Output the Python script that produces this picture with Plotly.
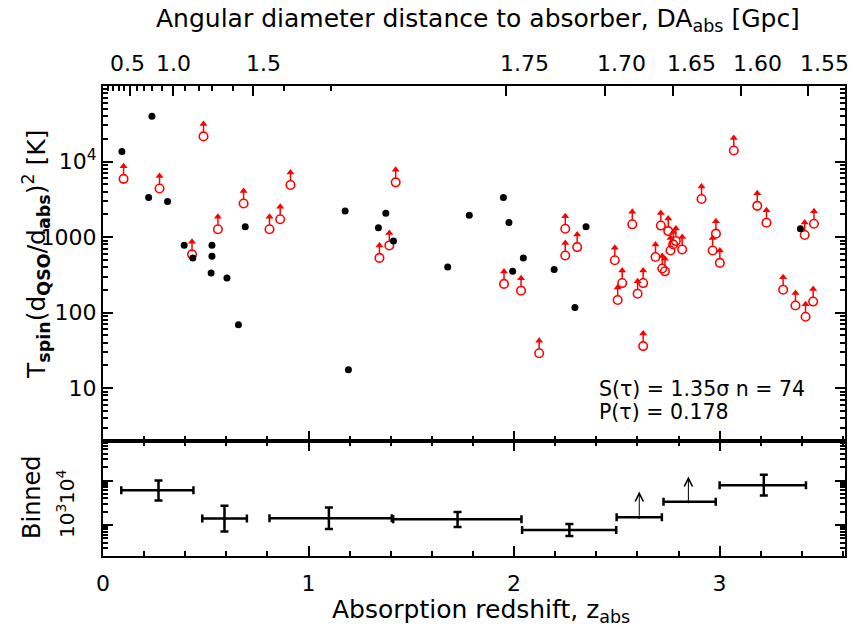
import numpy as np
import plotly.graph_objects as go

# ---------------- data ----------------
# detections: filled black points
det_z = [0.092, 0.222, 0.238, 0.314, 0.395, 0.437, 0.530, 0.530, 0.526, 0.603, 0.659, 0.692,
         1.178, 1.194, 1.340, 1.376, 1.413, 1.677, 1.782, 1.948, 1.975, 1.993, 2.045, 2.195,
         2.296, 2.350, 3.393]
det_T = [13600, 3340, 39800, 2960, 782, 530, 782, 558, 334, 287, 69, 1370,
         2220, 17.5, 1330, 2070, 885, 402, 1945, 3340, 1553, 352, 530, 371,
         117, 1370, 1290]

# lower limits: open red circles with upward arrows
lim_z = [0.100, 0.275, 0.433, 0.489, 0.559, 0.684, 0.810, 0.862, 0.912, 1.345,
         1.393, 1.424, 1.951, 2.034, 2.122, 2.249, 2.249, 2.307, 2.490, 2.504,
         2.526, 2.575, 2.601, 2.628, 2.628, 2.688, 2.714, 2.750, 2.761, 2.774,
         2.787, 2.818, 2.721, 2.734, 2.912, 2.982, 2.966, 3.001, 3.069, 3.183,
         3.228, 3.309, 3.369, 3.418, 3.455, 3.414, 3.459]
lim_T = [5900, 4400, 590, 21500, 1270, 2780, 1270, 1720, 4900, 530,
         775, 5300, 240, 195, 29, 1290, 570, 736, 494, 147,
         246, 1475, 178, 246, 36, 545, 1420, 1200, 665, 800,
         885, 686, 383, 352, 3190, 1110, 665, 455, 14000, 2590,
         1550, 201, 124, 88, 140, 1064, 1503]

# binned panel
bin_z = [0.270, 0.591, 1.099, 1.725, 2.269, 2.609, 2.848, 3.215]
bin_zlo = [0.089, 0.483, 0.810, 1.412, 2.039, 2.499, 2.727, 3.000]
bin_zhi = [0.440, 0.700, 1.405, 2.036, 2.497, 2.719, 2.981, 3.420]
bin_T = [6030, 1390, 1413, 1343, 771, 1489, 3304, 7852]
bin_Thi = [10000, 2692, 2455, 1950, 1047, None, None, 13490]
bin_Tlo = [3548, 708, 813, 902, 562, None, None, 4571]
bin_is_limit = [False, False, False, False, False, True, True, False]
bin_arrow_T = [None, None, None, None, None, 5623, 12300, None]

stats_lines = ["S(\u03c4) = 1.35\u03c3 n = 74", "P(\u03c4) = 0.178"]

# top axis: angular diameter distance
top_labels = ["0.5", "1.0", "1.5", "1.75", "1.70", "1.65", "1.60", "1.55"]
top_tick_z = [0.129, 0.340, 0.732, 1.961, 2.442, 2.773, 3.102, 3.430]
top_label_z = [0.117, 0.343, 0.779, 2.053, 2.523, 2.863, 3.186, 3.512]
top_minor_z = [0.025, 0.050, 0.077, 0.103, 0.163, 0.200, 0.240, 0.288,
               0.400, 0.465, 0.530, 0.632, 0.883, 1.108]

main_ytick = [10, 100, 1000, 10000]
main_ytext = ["10", "100", "1000", "10<sup>4</sup>"]
bin_ytick = [1000, 10000]
bin_ytext = ["10<sup>3</sup>", "10<sup>4</sup>"]
x_ticks = [0, 1, 2, 3]

# ---------------- layout geometry ----------------
W, H = 865, 630
L, R, T, B = 103, 20, 86, 74
PW, PH = W - L - R, H - T - B
split = 115 / PH          # bottom panel height fraction
XR = [0, 3.61]
YR_MAIN = [0.30, 5.0]
YR_BIN = [2.30, 4.89]
FONT = "DejaVu Sans"
FS = 22      # tick labels
FT = 25      # titles

main_h = PH * (1 - split)
dec_px = main_h / (YR_MAIN[1] - YR_MAIN[0])
k0 = 10 ** (4.5 / dec_px)
k1 = 10 ** (12.5 / dec_px)
khead = 10 ** (12.5 / dec_px)

fig = go.Figure()

sx, sy = [], []
for z, t in zip(lim_z, lim_T):
    sx += [z, z, None]
    sy += [t * k0, t * k1, None]
fig.add_trace(go.Scatter(x=sx, y=sy, mode="lines", line=dict(color="red", width=1.5),
                         xaxis="x2", yaxis="y", hoverinfo="skip", showlegend=False))
fig.add_trace(go.Scatter(x=lim_z, y=[t * khead for t in lim_T], mode="markers",
                         marker=dict(symbol="triangle-up", size=7, color="red"),
                         xaxis="x2", yaxis="y", showlegend=False))
fig.add_trace(go.Scatter(x=lim_z, y=lim_T, mode="markers",
                         marker=dict(symbol="circle-open", size=8.5, color="red", line=dict(width=1.6)),
                         xaxis="x2", yaxis="y", showlegend=False))
fig.add_trace(go.Scatter(x=det_z, y=det_T, mode="markers",
                         marker=dict(symbol="circle", size=7, color="black"),
                         xaxis="x2", yaxis="y", showlegend=False))
# dummy trace for the top axis
fig.add_trace(go.Scatter(x=[1], y=[100], mode="markers", marker=dict(opacity=0),
                         xaxis="x3", yaxis="y", hoverinfo="skip", showlegend=False))

# binned panel
for i in range(len(bin_z)):
    ex = dict(type="data", symmetric=False, array=[bin_zhi[i] - bin_z[i]],
              arrayminus=[bin_z[i] - bin_zlo[i]], color="black", thickness=2.5, width=4)
    if bin_is_limit[i]:
        ey = dict(visible=False)
    else:
        ey = dict(type="data", symmetric=False, array=[bin_Thi[i] - bin_T[i]],
                  arrayminus=[bin_T[i] - bin_Tlo[i]], color="black", thickness=2.5, width=4)
    fig.add_trace(go.Scatter(x=[bin_z[i]], y=[bin_T[i]], mode="markers",
                             marker=dict(size=3, color="black"), error_x=ex, error_y=ey,
                             xaxis="x", yaxis="y2", showlegend=False))

ann = []
for i in range(len(bin_z)):
    if bin_is_limit[i]:
        ann.append(dict(x=bin_z[i], y=np.log10(bin_arrow_T[i]), xref="x", yref="y2",
                        ax=bin_z[i], ay=np.log10(bin_T[i]), axref="x", ayref="y2",
                        text="", showarrow=True, arrowhead=5, arrowsize=1.6, arrowwidth=1,
                        arrowcolor="black"))

for lab, z in zip(top_labels, top_label_z):
    ann.append(dict(x=z, y=1, xref="x2", yref="paper", yshift=23, text=lab, showarrow=False,
                    font=dict(family=FONT, size=FS, color="black"), xanchor="center", yanchor="middle"))


def px_x(px):
    return (px - L) / PW


def px_y(py):
    return (H - B - py) / PH


# rotated tick labels of the binned panel
for lab, py in zip(bin_ytext, [521, 487]):
    ann.append(dict(x=px_x(66), y=px_y(py), xref="paper", yref="paper", showarrow=False,
                    textangle=-90, text=lab, font=dict(family=FONT, size=20, color="black"),
                    xanchor="center", yanchor="middle"))

ann.append(dict(x=px_x(478), y=px_y(20), xref="paper", yref="paper", showarrow=False,
                text="Angular diameter distance to absorber, DA<sub>abs</sub> [Gpc]",
                font=dict(family=FONT, size=FT, color="black"), xanchor="center", yanchor="middle"))
ann.append(dict(x=px_x(481), y=px_y(611), xref="paper", yref="paper", showarrow=False,
                text="Absorption redshift, z<sub>abs</sub>",
                font=dict(family=FONT, size=FT, color="black"), xanchor="center", yanchor="middle"))
ann.append(dict(x=px_x(36), y=px_y(254), xref="paper", yref="paper", showarrow=False, textangle=-90,
                text="T<sub><b>spin</b></sub>(d<sub><b>QSO</b></sub>/d<sub><b>abs</b></sub>)<sup>2</sup> [K]",
                font=dict(family=FONT, size=FT, color="black"), xanchor="center", yanchor="middle"))
ann.append(dict(x=px_x(32), y=px_y(497), xref="paper", yref="paper", showarrow=False, textangle=-90,
                text="Binned", font=dict(family=FONT, size=24, color="black"),
                xanchor="center", yanchor="middle"))
ann.append(dict(x=px_x(597), y=px_y(389), xref="paper", yref="paper", showarrow=False,
                text=stats_lines[0], font=dict(family=FONT, size=20.5, color="black"),
                xanchor="left", yanchor="middle"))
ann.append(dict(x=px_x(597), y=px_y(412), xref="paper", yref="paper", showarrow=False,
                text=stats_lines[1], font=dict(family=FONT, size=20.5, color="black"),
                xanchor="left", yanchor="middle"))

line_kw = dict(showline=True, linecolor="black", linewidth=2, showgrid=False, zeroline=False,
               ticks="inside", tickcolor="black", tickwidth=1.5, ticklen=10)
main_minor = [m * 10 ** e for e in range(0, 5) for m in range(2, 10)]
bin_minor = [m * 10 ** e for e in range(2, 5) for m in range(2, 10)]

fig.update_layout(
    width=W, height=H, margin=dict(l=L, r=R, t=T, b=B),
    paper_bgcolor="white", plot_bgcolor="white", showlegend=False,
    font=dict(family=FONT, size=FS, color="black"),
    xaxis=dict(domain=[0, 1], anchor="y2", range=XR, tickvals=x_ticks, mirror="ticks",
               tickfont=dict(size=FS), ticklabelstandoff=7,
               minor=dict(dtick=0.2, tick0=0, ticks="inside", ticklen=5, tickwidth=1.5, tickcolor="black"),
               **line_kw),
    xaxis2=dict(domain=[0, 1], anchor="y", range=XR, tickvals=x_ticks, showticklabels=False,
                minor=dict(dtick=0.2, tick0=0, ticks="inside", ticklen=5, tickwidth=1.5, tickcolor="black"),
                **line_kw),
    xaxis3=dict(overlaying="x2", side="top", anchor="y", range=XR, tickvals=top_tick_z,
                showticklabels=False,
                minor=dict(tickmode="array", tickvals=top_minor_z, ticks="inside", ticklen=5,
                           tickwidth=1.5, tickcolor="black"),
                **line_kw),
    yaxis=dict(domain=[split, 1], anchor="x2", type="log", range=YR_MAIN, tickvals=main_ytick,
               ticktext=main_ytext, mirror="ticks", tickfont=dict(size=FS),
               minor=dict(tickmode="array", tickvals=main_minor, ticks="inside", ticklen=5,
                          tickwidth=1.5, tickcolor="black"),
               **line_kw),
    yaxis2=dict(domain=[0, split], anchor="x", type="log", range=YR_BIN, tickvals=bin_ytick,
                showticklabels=False, mirror="ticks",
                minor=dict(tickmode="array", tickvals=bin_minor, ticks="inside", ticklen=5,
                           tickwidth=1.5, tickcolor="black"),
                **line_kw),
    annotations=ann,
)

fig.write_html("out.html", post_script="document.body.style.margin='0';",
               config={"displayModeBar": False})
